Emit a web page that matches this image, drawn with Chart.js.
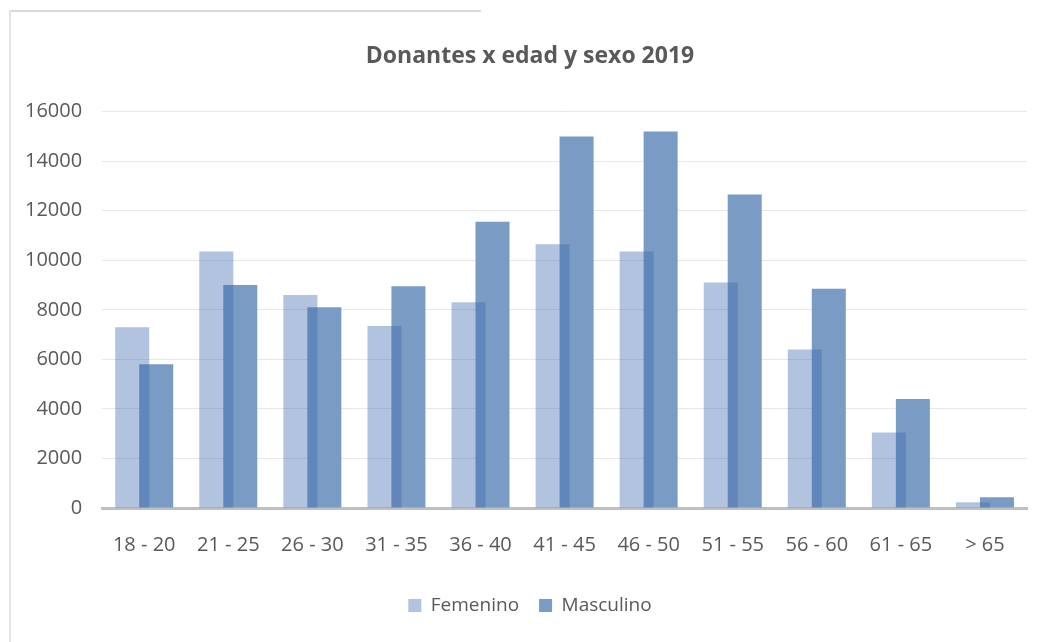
<!DOCTYPE html>
<html>
<head>
<meta charset="utf-8">
<script src="https://cdn.jsdelivr.net/npm/chart.js@4"></script>
<style>
  body { margin: 0; background: #fff; }
  #wrap { position: relative; width: 1038px; height: 642px; }
  #topline { position: absolute; left: 9px; top: 10px; width: 472px; height: 0; border-top: 2px solid #d9d9d9; }
  #leftline { position: absolute; left: 9px; top: 10px; width: 0; height: 632px; border-left: 2px solid #e3e3e3; }
</style>
</head>
<body>
<div id="wrap">
  <canvas id="donantesChart"></canvas>
  <div id="topline"></div>
  <div id="leftline"></div>
</div>
<script>
const edades = ['18 - 20', '21 - 25', '26 - 30', '31 - 35', '36 - 40', '41 - 45', '46 - 50', '51 - 55', '56 - 60', '61 - 65', '> 65'];
const femenino = [7300, 10350, 8600, 7350, 8300, 10650, 10350, 9100, 6400, 3050, 230];
const masculino = [5800, 9000, 8100, 8950, 11550, 15000, 15200, 12650, 8850, 4400, 430];
const yTicks = [0, 2000, 4000, 6000, 8000, 10000, 12000, 14000, 16000];

const textColor = '#595959';
const baseFont = "'Open Sans', 'Noto Sans', sans-serif";

// title and legend sit a bit right of the canvas centre in the original
const shiftBlocks = {
  id: 'shiftBlocks',
  afterLayout(chart) {
    chart.titleBlock.left += 28;
    chart.legend.left += 28;
  }
};

const ctx = document.getElementById('donantesChart').getContext('2d');

// chart.js paints dataset 0 last (on top), so Femenino gets a see-through
// colour that gives the same light blue on white and the darker overlap strip
const donantesChart = new Chart(ctx, {
  type: 'bar',
  data: {
    labels: edades,
    datasets: [{
      label: 'Femenino',
      data: femenino,
      backgroundColor: 'rgba(60, 105, 172, 0.4)',
      borderWidth: 0
    }, {
      label: 'Masculino',
      data: masculino,
      backgroundColor: 'rgb(122, 156, 196)',
      borderWidth: 0
    }]
  },
  plugins: [shiftBlocks],
  options: {
    responsive: true,
    maintainAspectRatio: false,
    animation: false,
    datasets: {
      bar: {
        categoryPercentage: 0.57,
        barPercentage: 1.42
      }
    },
    layout: {
      padding: { left: 5, right: 11, top: 30, bottom: 17 }
    },
    plugins: {
      title: {
        display: true,
        text: 'Donantes x edad y sexo 2019',
        color: textColor,
        font: { family: baseFont, size: 23, weight: 'bold' },
        padding: { top: 13, bottom: 41 }
      },
      legend: {
        display: true,
        position: 'bottom',
        labels: {
          color: textColor,
          boxWidth: 13,
          boxHeight: 13,
          padding: 20,
          font: { family: baseFont, size: 19 }
        }
      },
      tooltip: { enabled: false }
    },
    scales: {
      x: {
        grid: { display: false },
        border: { color: '#bfbfbf', width: 3 },
        afterFit: axis => { axis.height += 2; },
        ticks: {
          color: textColor,
          padding: 17,
          font: { family: baseFont, size: 20 }
        }
      },
      y: {
        min: 0,
        max: 16000,
        afterBuildTicks: axis => {
          axis.ticks = yTicks.map(v => ({ value: v }));
        },
        grid: { color: '#e8e8e8', drawTicks: false },
        border: { display: false },
        ticks: {
          color: textColor,
          padding: 20,
          font: { family: baseFont, size: 20 },
          callback: value => String(value)
        }
      }
    }
  }
});
</script>
</body>
</html>
